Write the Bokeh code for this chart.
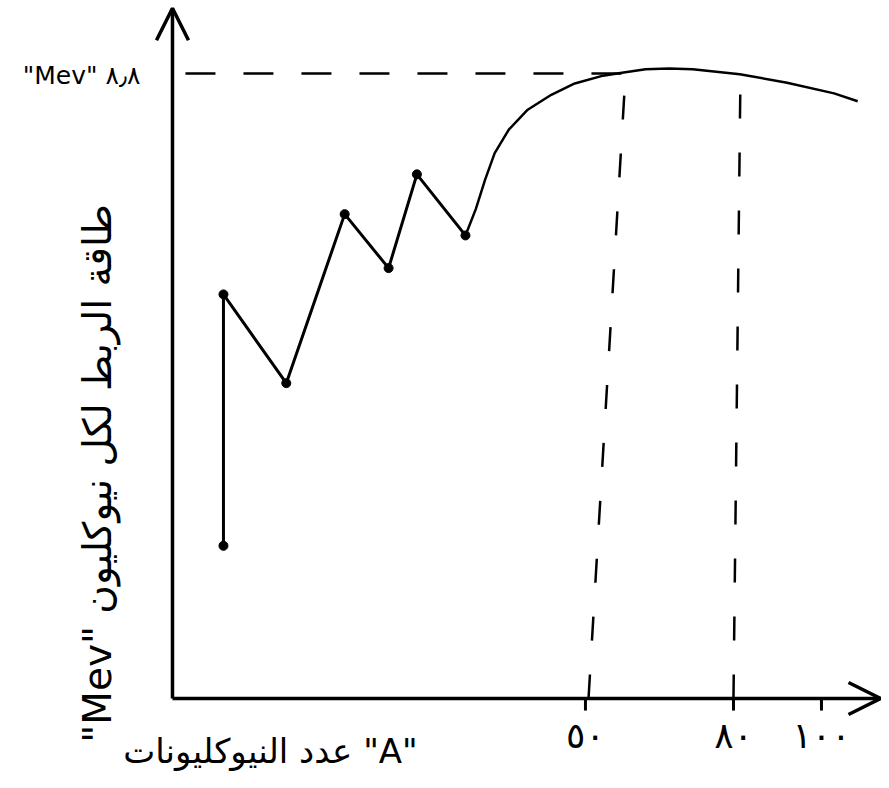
from bokeh.plotting import figure
from bokeh.models import Range1d, Arrow, OpenHead
from bokeh.core.properties import value
from bokeh.embed import file_html
from bokeh.resources import INLINE

# ---- data (horizontal position along the hand-drawn A axis, binding energy per nucleon in MeV) ----
zig_x = [7.15, 7.15, 15.96, 24.15, 30.31, 34.28, 41.09]
zig_y = [2.15, 5.69, 4.44, 6.82, 6.06, 7.38, 6.52]

curve_x = [41.09, 42.54, 43.86, 45.19, 47.17, 49.82, 53.13, 56.42, 60.39, 63.04,
           66.35, 69.65, 72.96, 79.57, 86.19, 92.79, 96.10]
curve_y = [6.52, 6.89, 7.31, 7.68, 8.01, 8.29, 8.50, 8.66, 8.77, 8.81,
           8.86, 8.87, 8.86, 8.79, 8.67, 8.52, 8.41]

peak_energy = 8.8
peak_line_x = [1.82, 63.1]
guide1_x = [58.35, 63.53]      # A = 50 guide (hand-drawn, slanted)
guide2_x = [78.68, 79.66]      # A = 80 guide
guide_top = 8.78

x_axis_end = 99.3
y_axis_end = 9.72

x_tick_pos = [57.92, 78.68, 91.02]
x_tick_labels = ["٥٠", "٨٠", "١٠٠"]
y_tick_pos = [8.77]
y_tick_labels = ['"Mev" ٨٫٨']

x_title = 'عدد النيوكليونات "A"'
y_title = '"Mev" طاقة الربط لكل نيوكليون'

FONT = value("DejaVu Sans")

p = figure(width=881, height=772, output_backend="svg", toolbar_location=None,
           x_range=Range1d(-24.12, 99.44), y_range=Range1d(-1.042, 9.828),
           min_border=0)
p.outline_line_color = None
p.grid.visible = False
p.axis.visible = False
p.background_fill_color = "white"
p.border_fill_color = "white"

# hand-drawn axes
p.line([0, 0], [0, y_axis_end], line_color="black", line_width=3.5)
p.line([0, x_axis_end], [0, 0], line_color="black", line_width=3.5)
p.add_layout(Arrow(end=OpenHead(size=32, line_width=3.5, line_color="black"),
                   x_start=0, y_start=y_axis_end - 0.3, x_end=0, y_end=y_axis_end, line_alpha=0))
p.add_layout(Arrow(end=OpenHead(size=32, line_width=3.5, line_color="black"),
                   x_start=x_axis_end - 3, y_start=0, x_end=x_axis_end, y_end=0, line_alpha=0))

# x ticks and labels
p.segment(x0=x_tick_pos, y0=[0] * len(x_tick_pos), x1=x_tick_pos, y1=[-0.17] * len(x_tick_pos),
          line_color="black", line_width=3)
p.text(x=x_tick_pos, y=[-0.52] * len(x_tick_pos), text=x_tick_labels, text_font=FONT,
       text_font_size="36px", text_align="center", text_baseline="middle", text_color="black")

# y tick label
p.text(x=[-4.49], y=y_tick_pos, text=y_tick_labels, text_font=FONT,
       text_font_size="25px", text_align="right", text_baseline="middle", text_color="black")

# dashed guides
p.line(peak_line_x, [peak_energy, peak_energy], line_color="black", line_width=2.5, line_dash="30 28")
p.line(guide1_x, [0, guide_top], line_color="black", line_width=2.5, line_dash="24 34")
p.line(guide2_x, [0, guide_top], line_color="black", line_width=2.5, line_dash="24 34")

# data
p.line(zig_x, zig_y, line_color="black", line_width=3)
p.scatter(zig_x, zig_y, size=9, color="black")
p.line(curve_x, curve_y, line_color="black", line_width=2.5)

# axis titles
p.text(x=[13.74], y=[-0.74], text=[x_title], text_font=FONT, text_font_size="34px",
       text_align="center", text_baseline="middle", text_color="black")
p.text(x=[-10.52], y=[3.17], text=[y_title], text_font=FONT, text_font_size="39px",
       angle=1.5708, text_align="center", text_baseline="middle", text_color="black")

open("out.html", "w").write(file_html(p, INLINE))
